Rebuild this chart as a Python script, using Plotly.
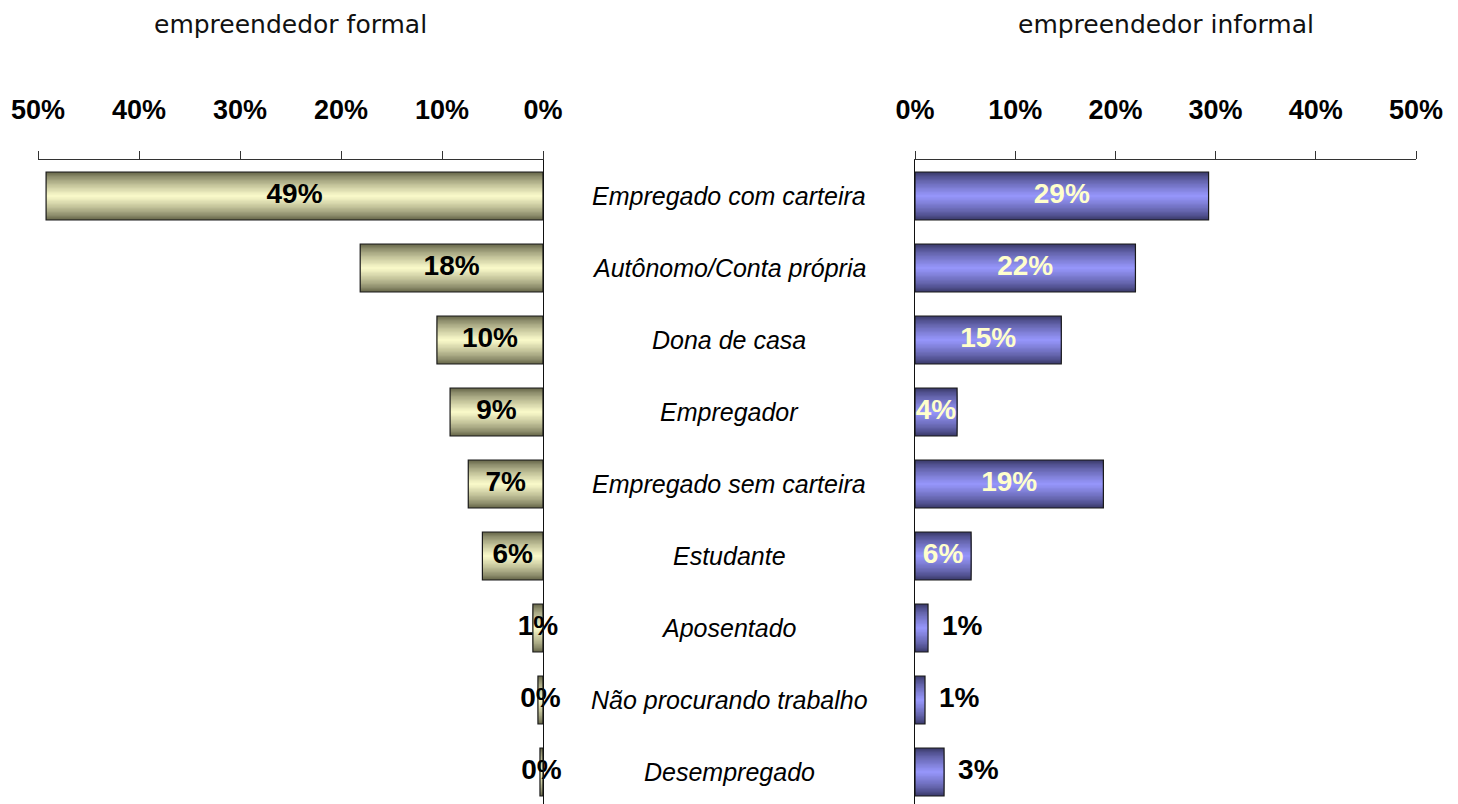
import numpy as np
import plotly.graph_objects as go

categories = ["Empregado com carteira", "Autônomo/Conta própria", "Dona de casa",
              "Empregador", "Empregado sem carteira", "Estudante", "Aposentado",
              "Não procurando trabalho", "Desempregado"]
formal_values = [49.2, 18.1, 10.5, 9.2, 7.4, 6.0, 1.0, 0.5, 0.3]
formal_labels = ["49%", "18%", "10%", "9%", "7%", "6%", "1%", "0%", "0%"]
informal_values = [29.3, 22.0, 14.6, 4.2, 18.8, 5.6, 1.3, 1.0, 2.9]
informal_labels = ["29%", "22%", "15%", "4%", "19%", "6%", "1%", "1%", "3%"]
tick_values = [0, 10, 20, 30, 40, 50]
tick_labels = ["0%", "10%", "20%", "30%", "40%", "50%"]
panel_titles = ["empreendedor formal", "empreendedor informal"]

FONT = "Liberation Sans, Arial, sans-serif"
W = 0.667
N = 18
LEFT_DARK, LEFT_LIGHT = (100, 100, 72), (255, 255, 206)
RIGHT_DARK, RIGHT_LIGHT = (56, 56, 104), (153, 153, 255)

# page offset of the figure inside the html body (default 8px body margin)
OFF = 8
FW, FH = 1458, 804
TOP = 160 - OFF
BOT = FH - (804 - OFF)
PLOT_H = FH - TOP - BOT


def mix(c1, c2, f):
    return "rgb(%d,%d,%d)" % tuple(round(a + (b - a) * f) for a, b in zip(c1, c2))


fig = go.Figure()

for vals, xa, ya, dark, light in [
    (formal_values, "x", "y", LEFT_DARK, LEFT_LIGHT),
    (informal_values, "x2", "y2", RIGHT_DARK, RIGHT_LIGHT),
]:
    for i in range(N):
        r = 1 - i / N
        w = W * r
        f = (1 - r) ** 0.75
        fig.add_trace(go.Bar(
            x=vals, y=categories, orientation="h", width=w,
            marker=dict(color=mix(dark, light, f), line=dict(width=0)),
            xaxis=xa, yaxis=ya, showlegend=False, hoverinfo="skip",
        ))
    fig.add_trace(go.Bar(
        x=vals, y=categories, orientation="h", width=W,
        marker=dict(color="rgba(0,0,0,0)", line=dict(color="#1a1a1a", width=1.2)),
        xaxis=xa, yaxis=ya, showlegend=False,
    ))

# labels
fig.add_trace(go.Scatter(
    x=[v / 2 for v in formal_values], y=categories, mode="text", text=formal_labels,
    textposition="middle center",
    textfont=dict(family=FONT, size=28, color="black", weight="bold"),
    xaxis="x", yaxis="y", showlegend=False, cliponaxis=False, hoverinfo="skip",
))
inside = [v >= 4 for v in informal_values]
fig.add_trace(go.Scatter(
    x=[v / 2 if ins else v + 1.4 for v, ins in zip(informal_values, inside)],
    y=categories, mode="text", text=informal_labels,
    textposition=["middle center" if ins else "middle right" for ins in inside],
    textfont=dict(family=FONT, size=28, weight="bold",
                  color=["#ffffcc" if ins else "black" for ins in inside]),
    xaxis="x2", yaxis="y2", showlegend=False, cliponaxis=False, hoverinfo="skip",
))

L_DOM = [(38 - OFF) / FW, (543 - OFF) / FW]
R_DOM = [(915 - OFF) / FW, (1416 - OFF) / FW]
yrange = [-0.5 + PLOT_H / 72, -0.5]

xcommon = dict(side="top", tickvals=tick_values, ticktext=tick_labels, ticks="outside",
               ticklen=8, tickcolor="#333", showline=True, linecolor="#333", linewidth=1,
               showgrid=False, zeroline=False, ticklabelstandoff=21, automargin=False,
               tickfont=dict(family=FONT, size=27, color="black", weight="bold"))
ycommon = dict(categoryorder="array", categoryarray=categories, range=yrange,
               showline=True, linecolor="#111", linewidth=1, showticklabels=False,
               ticks="", showgrid=False, zeroline=False, domain=[0, 1], automargin=False)

annotations = []
for c in categories:
    annotations.append(dict(
        x=(729 - OFF) / FW, xref="paper", y=c, yref="y", text="<i>%s</i>" % c,
        showarrow=False, xanchor="center", yanchor="middle",
        font=dict(family=FONT, size=25, color="black"),
    ))
for t, dom in zip(panel_titles, [L_DOM, R_DOM]):
    annotations.append(dict(
        x=(dom[0] + dom[1]) / 2, xref="paper", y=1 + (TOP - 1) / PLOT_H,
        yref="paper", text=t, showarrow=False, xanchor="center", yanchor="top",
        borderpad=0,
        font=dict(family="DejaVu Sans, sans-serif", size=25, color="#111"),
    ))

fig.update_layout(
    width=FW, height=FH,
    margin=dict(l=0, r=0, t=TOP, b=BOT, autoexpand=False),
    paper_bgcolor="white", plot_bgcolor="white",
    barmode="overlay",
    xaxis=dict(domain=L_DOM, range=[50, 0], anchor="y", **xcommon),
    yaxis=dict(anchor="x", side="right", **ycommon),
    xaxis2=dict(domain=R_DOM, range=[0, 50], anchor="y2", **xcommon),
    yaxis2=dict(anchor="x2", side="left", **ycommon),
    annotations=annotations,
)

fig.write_html("out.html")
